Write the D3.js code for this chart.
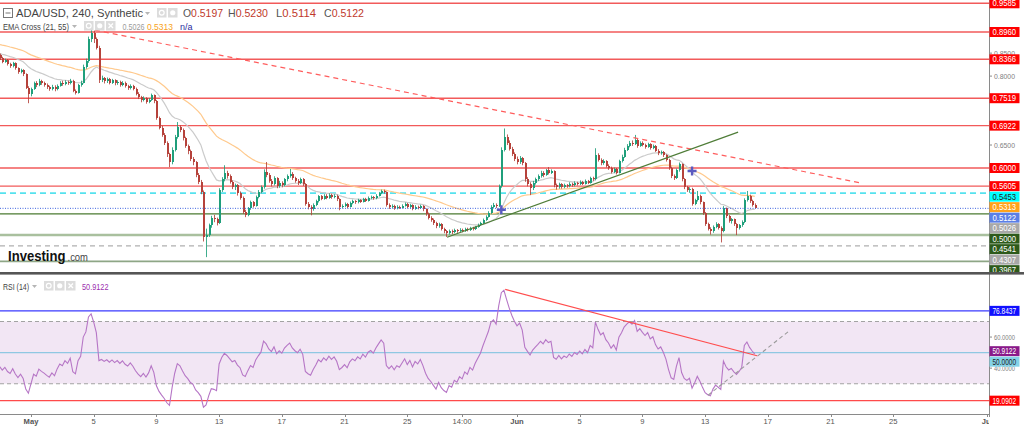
<!DOCTYPE html>
<html><head><meta charset="utf-8">
<script src="https://cdn.jsdelivr.net/npm/d3@7"></script>
<style>body{margin:0;background:#fff;overflow:hidden}svg{display:block}</style>
</head><body>
<svg id="c" width="1024" height="428"></svg>
<script>
// ---------------- DATA ----------------
const startTime = "2022-04-29T00:00:00Z";   // first 4h candle
const firstOpen = 0.845;
const closes = [
.839,.831,.835,.826,.822,.828,.817,.809,.813,.804,
.775,.760,.772,.785,.780,.790,.785,.781,.776,.772,
.777,.771,.779,.785,.782,.788,.784,.790,.768,.764,
.780,.786,.820,.832,.880,.893,.880,.862,.792,.795,
.789,.793,.786,.791,.784,.788,.781,.786,.778,.774,
.779,.772,.762,.754,.748,.752,.744,.749,.758,.745,
.709,.688,.672,.655,.630,.612,.640,.668,.690,.683,
.665,.648,.636,.620,.612,.585,.570,.548,.450,.455,
.475,.492,.488,.480,.552,.575,.590,.582,.570,.558,
.562,.545,.535,.505,.498,.512,.525,.518,.537,.548,
.558,.592,.585,.572,.565,.578,.560,.568,.562,.575,
.582,.588,.578,.572,.568,.575,.565,.522,.515,.510,
.520,.528,.538,.533,.540,.535,.542,.536,.540,.532,
.515,.518,.522,.516,.524,.528,.525,.530,.527,.533,
.529,.535,.537,.534,.540,.545,.550,.547,.520,.515,
.518,.512,.516,.514,.518,.522,.515,.519,.511,.516,
.513,.517,.510,.500,.492,.487,.480,.473,.478,.468,
.462,.458,.463,.460,.465,.462,.466,.463,.468,.465,
.470,.467,.472,.476,.480,.487,.494,.502,.516,.520,
.517,.560,.640,.668,.655,.642,.630,.620,.612,.622,
.610,.575,.565,.556,.568,.575,.582,.590,.585,.595,
.590,.593,.562,.558,.565,.558,.563,.560,.566,.562,
.568,.565,.570,.566,.572,.568,.578,.575,.628,.618,
.610,.615,.605,.600,.592,.598,.590,.615,.625,.640,
.648,.655,.652,.662,.648,.655,.650,.646,.652,.644,
.648,.638,.632,.635,.628,.618,.600,.582,.578,.595,
.608,.575,.558,.552,.555,.522,.530,.540,.525,.502,
.478,.468,.462,.472,.478,.470,.462,.512,.495,.485,
.488,.478,.470,.475,.482,.530,.540,.528,.5197,.5122];
const highs = [
.849,.842,.838,.837,.829,.831,.830,.819,.816,.815,
.806,.778,.775,.788,.789,.794,.792,.788,.784,.779,
.781,.780,.782,.789,.790,.791,.790,.794,.792,.771,
.783,.790,.825,.838,.886,.905,.899,.884,.866,.801,
.798,.797,.796,.794,.793,.791,.790,.789,.788,.781,
.782,.781,.775,.765,.757,.756,.754,.752,.762,.760,
.748,.712,.692,.676,.658,.633,.645,.672,.700,.693,
.686,.668,.651,.640,.624,.615,.589,.574,.551,.468,
.479,.496,.498,.492,.556,.580,.606,.594,.586,.573,
.566,.565,.549,.538,.509,.515,.529,.528,.540,.552,
.562,.597,.613,.589,.576,.582,.580,.572,.571,.578,
.586,.598,.591,.581,.576,.579,.578,.567,.526,.519,
.523,.531,.541,.541,.543,.543,.545,.544,.543,.542,
.534,.521,.525,.524,.527,.531,.530,.533,.532,.535,
.535,.538,.540,.539,.543,.548,.553,.553,.549,.523,
.521,.520,.519,.518,.521,.525,.524,.522,.521,.519,
.518,.520,.519,.512,.503,.495,.490,.483,.481,.480,
.470,.465,.466,.466,.468,.467,.469,.468,.470,.470,
.472,.472,.474,.479,.483,.490,.497,.506,.519,.524,
.523,.564,.645,.686,.673,.660,.646,.634,.625,.626,
.624,.613,.580,.569,.572,.579,.586,.594,.593,.598,
.602,.597,.595,.566,.568,.567,.566,.565,.569,.568,
.571,.570,.573,.572,.575,.574,.581,.581,.643,.632,
.621,.619,.617,.608,.603,.601,.600,.618,.629,.644,
.652,.659,.660,.672,.665,.658,.658,.653,.655,.654,
.651,.650,.641,.638,.637,.630,.620,.603,.586,.599,
.612,.610,.578,.561,.558,.557,.533,.550,.542,.527,
.504,.481,.471,.475,.482,.480,.473,.517,.514,.498,
.491,.490,.480,.478,.486,.534,.550,.542,.531,.5230];
const lows = [
.835,.828,.829,.823,.818,.819,.814,.805,.806,.800,
.772,.741,.756,.770,.776,.778,.781,.777,.772,.768,
.769,.767,.769,.777,.779,.780,.781,.782,.765,.760,
.762,.777,.784,.816,.829,.874,.872,.858,.785,.787,
.784,.785,.782,.783,.780,.781,.777,.778,.775,.770,
.771,.769,.758,.750,.743,.745,.740,.741,.746,.741,
.705,.684,.668,.650,.624,.602,.608,.636,.664,.678,
.660,.644,.630,.615,.606,.580,.565,.543,.440,.406,
.450,.470,.482,.475,.478,.548,.571,.577,.566,.554,
.552,.540,.531,.500,.493,.495,.509,.514,.516,.534,
.545,.555,.580,.568,.560,.562,.556,.557,.558,.560,
.571,.579,.574,.568,.563,.565,.561,.518,.510,.497,
.507,.517,.525,.530,.531,.532,.533,.533,.534,.528,
.508,.512,.515,.512,.514,.521,.522,.523,.524,.525,
.526,.527,.532,.531,.532,.538,.543,.544,.516,.511,
.512,.509,.510,.511,.512,.516,.512,.513,.508,.509,
.510,.511,.506,.496,.488,.483,.476,.469,.470,.464,
.458,.450,.455,.456,.458,.459,.460,.460,.461,.462,
.463,.464,.465,.470,.474,.478,.485,.492,.500,.513,
.513,.515,.557,.636,.650,.638,.626,.615,.608,.609,
.606,.570,.560,.541,.552,.564,.572,.579,.580,.583,
.586,.587,.558,.553,.555,.555,.556,.557,.558,.559,
.560,.562,.563,.563,.564,.565,.566,.572,.573,.614,
.606,.607,.601,.596,.588,.589,.586,.588,.612,.622,
.637,.645,.648,.650,.644,.646,.647,.642,.644,.640,
.641,.635,.628,.629,.624,.614,.596,.578,.574,.576,
.592,.571,.554,.548,.546,.518,.519,.527,.521,.498,
.474,.464,.455,.459,.469,.466,.438,.460,.491,.481,
.479,.474,.454,.466,.472,.480,.527,.524,.516,.5114];

// indicator seeds (values before the first visible candle)
const ema21Seed = 0.850, ema55Seed = 0.870;
const rsiSeedGain = 0.0045, rsiSeedLoss = 0.0060;

// header values
const titleText = "ADA/USD, 240, Synthetic";
const ohlcLetters = ["O","H","L","C"];
const ohlcValues = [0.5197, 0.5230, 0.5114, 0.5122];
const emaLast21 = 0.5026, emaLast55 = 0.5313;
const rsiLast = 50.9122;

// horizontal levels on price chart
const levelValues = [0.9585, 0.8960, 0.8366, 0.7519, 0.6922, 0.6000, 0.5605, 0.5453, 0.5000, 0.4541, 0.4307, 0.3967];
const levelKinds  = ["res","res","res","res","res","res","res","cyan","sup","supLight","dash","sup2"];
const priceTicks = [0.40,0.45,0.50,0.55,0.60,0.65,0.70,0.75,0.80,0.85,0.90,0.95];

// trend lines [date, value]
const resistanceLine = [["2022-05-05T02:00:00Z", 0.900], ["2022-06-23T00:00:00Z", 0.567]];
const supportLine    = [["2022-05-27T13:00:00Z", 0.4494], ["2022-06-15T02:30:00Z", 0.6781]];

// RSI panel
const rsiBand = [70, 30];
const rsiLevels = [76.8437, 50.0, 19.0902];
const rsiLevelKinds = ["rsiBlue","rsiMid","rsiRed"];
const rsiTicks = [20, 40, 60, 80];
const rsiDownLine = [["2022-05-31T06:00:00Z", 90.7], ["2022-06-16T07:30:00Z", 48.0]];
const rsiUpLine   = [["2022-06-13T04:30:00Z", 22.6], ["2022-06-18T10:00:00Z", 64.4]];

// x axis
const xTickDates  = ["2022-05-01","2022-05-05","2022-05-09","2022-05-13","2022-05-17","2022-05-21","2022-05-25","2022-05-28T12:00","2022-06-01","2022-06-05","2022-06-09","2022-06-13","2022-06-17","2022-06-21","2022-06-25","2022-07-01"];
const xTickLabels = ["May","5","9","13","17","21","25","14:00","Jun","5","9","13","17","21","25","Jul"];

// ---------------- STYLE ----------------
const FONT = "'Liberation Sans', Arial, sans-serif";
const UP = "#1f9f7b", DOWN = "#b6423b";
const lineStyle = {
  res:      {stroke:"#f25a5a", w:1.4, dash:null},
  cyan:     {stroke:"#55e2ee", w:1.8, dash:"6,4"},
  sup:      {stroke:"#4b7a30", w:1.2, dash:null},
  supLight: {stroke:"#a9c09e", w:2.4, dash:null},
  dash:     {stroke:"#b0b0b0", w:1.2, dash:"5,4"},
  sup2:     {stroke:"#8ea686", w:1.6, dash:null}
};
const labelStyle = {
  res:{bg:"#ff0000",fg:"#fff"}, cyan:{bg:"#00ffff",fg:"#222"}, sup:{bg:"#2d5a1b",fg:"#fff"},
  supLight:{bg:"#2d5a1b",fg:"#fff"}, sup2:{bg:"#2d5a1b",fg:"#fff"}, dash:{bg:"#a8a8a8",fg:"#fff"},
  price:{bg:"#5a7fe6",fg:"#fff"}, ema21:{bg:"#a8a8a8",fg:"#fff"}, ema55:{bg:"#ffa31a",fg:"#fff"},
  rsiBlue:{bg:"#1010ff",fg:"#fff"}, rsiMid:{bg:"#84d3e8",fg:"#222"}, rsiRed:{bg:"#ff0000",fg:"#fff"},
  rsiVal:{bg:"#8a1a8a",fg:"#fff"}
};
const rsiLineStyle = {rsiBlue:{stroke:"#3a3aff",w:1.2}, rsiMid:{stroke:"#8fc8e2",w:1.2}, rsiRed:{stroke:"#ff4a4a",w:1.2}};

// ---------------- SCALES ----------------
const svg = d3.select("#c").attr("font-family", FONT);
const PR = 989;                 // right edge of plots
const MAIN_B = 272, RSI_T = 276, RSI_B = 414;
const x = d3.scaleUtc().domain([new Date("2022-05-01T00:00:00Z"), new Date("2022-06-01T00:00:00Z")]).range([31, 517]);
const y = d3.scaleLinear().domain([0.896, 0.600]).range([32, 168]);
const yR = d3.scaleLinear().domain([70, 30]).range([321.5, 383.7]);

const t0 = new Date(startTime).getTime();
const candles = closes.map((c,i)=>({t:new Date(t0 + i*4*3600e3), o: i? closes[i-1] : firstOpen, c, h:highs[i], l:lows[i]}));

// indicators
function ema(n, seed){ const k=2/(n+1); let e=seed; return candles.map(d=>(e = d.c*k + e*(1-k))); }
const e21 = ema(21, ema21Seed), e55 = ema(55, ema55Seed);
let ag=rsiSeedGain, al=rsiSeedLoss;
const rsi = candles.map(d=>{ const ch=d.c-d.o; ag=(ag*13+Math.max(ch,0))/14; al=(al*13+Math.max(-ch,0))/14; return 100-100/(1+ag/al); });
const crosses = [];
for (let i=1;i<candles.length;i++){ if (Math.sign(e21[i]-e55[i]) !== Math.sign(e21[i-1]-e55[i-1])) crosses.push({t:candles[i].t, v:(e21[i]+e55[i])/2}); }

// ---------------- DRAW ----------------
const defs = svg.append("defs");
defs.append("clipPath").attr("id","cm").append("rect").attr("x",0).attr("y",0).attr("width",PR).attr("height",MAIN_B);
defs.append("clipPath").attr("id","cml").append("rect").attr("x",0).attr("y",0).attr("width",1024).attr("height",MAIN_B+1);
defs.append("clipPath").attr("id","cr").append("rect").attr("x",0).attr("y",RSI_T).attr("width",PR).attr("height",RSI_B-RSI_T);
defs.append("clipPath").attr("id","cx").append("rect").attr("x",0).attr("y",RSI_B).attr("width",PR).attr("height",14);

const gm = svg.append("g").attr("clip-path","url(#cm)");
// levels
gm.selectAll("line.lv").data(levelValues).join("line").attr("class","lv")
  .attr("x1",0).attr("x2",PR).attr("y1",d=>y(d)).attr("y2",d=>y(d))
  .attr("stroke",(d,i)=>lineStyle[levelKinds[i]].stroke).attr("stroke-width",(d,i)=>lineStyle[levelKinds[i]].w)
  .attr("stroke-dasharray",(d,i)=>lineStyle[levelKinds[i]].dash);
// EMAs
const lineGen = d3.line().x(d=>x(d[0])).y(d=>d[1]);
gm.append("path").attr("d", lineGen(candles.map((d,i)=>[d.t, y(e55[i])]))).attr("fill","none").attr("stroke","#ffc98c").attr("stroke-width",1.2);
gm.append("path").attr("d", lineGen(candles.map((d,i)=>[d.t, y(e21[i])]))).attr("fill","none").attr("stroke","#cbcbcb").attr("stroke-width",1.2);
// candles
const gc = gm.append("g");
gc.selectAll("line").data(candles).join("line")
  .attr("x1",d=>Math.round(x(d.t))+0.5).attr("x2",d=>Math.round(x(d.t))+0.5)
  .attr("y1",d=>y(d.h)).attr("y2",d=>y(d.l))
  .attr("stroke",d=>d.c>=d.o?UP:DOWN).attr("stroke-width",1).attr("opacity",0.85);
gc.selectAll("rect").data(candles).join("rect")
  .attr("x",d=>Math.round(x(d.t))-0.5).attr("width",2)
  .attr("y",d=>y(Math.max(d.o,d.c))).attr("height",d=>Math.max(1, Math.abs(y(d.o)-y(d.c))))
  .attr("fill",d=>d.c>=d.o?UP:DOWN).attr("shape-rendering","crispEdges");
// price line
const last = closes[closes.length-1];
gm.append("line").attr("x1",0).attr("x2",PR).attr("y1",y(last)).attr("y2",y(last))
  .attr("stroke","#3e63e0").attr("stroke-width",1).attr("stroke-dasharray","1,1.5");
// trend lines
gm.append("line").attr("x1",x(new Date(resistanceLine[0][0]))).attr("y1",y(resistanceLine[0][1]))
  .attr("x2",x(new Date(resistanceLine[1][0]))).attr("y2",y(resistanceLine[1][1]))
  .attr("stroke","#ff5d5d").attr("stroke-width",1.2).attr("stroke-dasharray","5,4");
gm.append("line").attr("x1",x(new Date(supportLine[0][0]))).attr("y1",y(supportLine[0][1]))
  .attr("x2",x(new Date(supportLine[1][0]))).attr("y2",y(supportLine[1][1]))
  .attr("stroke","#4f7d38").attr("stroke-width",1.2);
// EMA cross markers
gm.selectAll("path.cross").data(crosses).join("path").attr("class","cross")
  .attr("d",d=>{const cx=x(d.t), cy=y(d.v); return `M${cx-4.5},${cy}H${cx+4.5}M${cx},${cy-4.5}V${cy+4.5}`;})
  .attr("stroke","#5a5ac0").attr("stroke-width",2.4);

// RSI panel
const gr = svg.append("g").attr("clip-path","url(#cr)");
gr.append("rect").attr("x",0).attr("width",PR).attr("y",yR(rsiBand[0])).attr("height",yR(rsiBand[1])-yR(rsiBand[0])).attr("fill","#f2e6f4");
gr.selectAll("line.band").data(rsiBand).join("line").attr("class","band")
  .attr("x1",0).attr("x2",PR).attr("y1",d=>yR(d)).attr("y2",d=>yR(d))
  .attr("stroke","#a3a3a3").attr("stroke-width",1.1).attr("stroke-dasharray","4,3");
gr.selectAll("line.rl").data(rsiLevels).join("line").attr("class","rl")
  .attr("x1",0).attr("x2",PR).attr("y1",d=>yR(d)).attr("y2",d=>yR(d))
  .attr("stroke",(d,i)=>rsiLineStyle[rsiLevelKinds[i]].stroke).attr("stroke-width",(d,i)=>rsiLineStyle[rsiLevelKinds[i]].w);
gr.append("path").attr("d", lineGen(candles.map((d,i)=>[d.t, yR(rsi[i])]))).attr("fill","none").attr("stroke","#b676c6").attr("stroke-width",1.1);
gr.append("line").attr("x1",x(new Date(rsiDownLine[0][0]))).attr("y1",yR(rsiDownLine[0][1]))
  .attr("x2",x(new Date(rsiDownLine[1][0]))).attr("y2",yR(rsiDownLine[1][1])).attr("stroke","#ff4d4d").attr("stroke-width",1.2);
gr.append("line").attr("x1",x(new Date(rsiUpLine[0][0]))).attr("y1",yR(rsiUpLine[0][1]))
  .attr("x2",x(new Date(rsiUpLine[1][0]))).attr("y2",yR(rsiUpLine[1][1])).attr("stroke","#9a9a9a").attr("stroke-width",1.1).attr("stroke-dasharray","4,3");

// axes lines
svg.append("line").attr("x1",PR+0.5).attr("x2",PR+0.5).attr("y1",0).attr("y2",RSI_B+3).attr("stroke","#8a8a8a");
svg.append("line").attr("x1",0).attr("x2",PR).attr("y1",RSI_B+0.5).attr("y2",RSI_B+0.5).attr("stroke","#8a8a8a");

// x axis ticks
const gx = svg.append("g").attr("clip-path","url(#cx)");
const xt = xTickDates.map((d,i)=>({t:new Date(d.length>10? d+":00Z" : d+"T00:00:00Z"), s:xTickLabels[i]}));
gx.selectAll("line").data(xt).join("line").attr("x1",d=>Math.round(x(d.t))+0.5).attr("x2",d=>Math.round(x(d.t))+0.5)
  .attr("y1",RSI_B).attr("y2",RSI_B+3).attr("stroke","#8a8a8a");
gx.selectAll("text").data(xt).join("text").attr("x",d=>x(d.t)).attr("y",RSI_B+10)
  .attr("text-anchor","middle").attr("font-size",7.6).attr("fill","#555")
  .attr("font-weight",d=>/^[A-Z]/.test(d.s)?"bold":"normal").text(d=>d.s);

// right labels (stacked so they never collide)
const f4 = d3.format(".4f");
function stack(list, sc){
  const s = list.slice().sort((a,b)=>b.v-a.v);
  let prev=-1e9;
  s.forEach(d=>{ let yy=sc(d.v); if (yy<prev+10.5) yy=prev+10.5; prev=yy; d.y=yy; });
  return s;
}
const mainLabels = stack(levelValues.map((v,i)=>({v, k:levelKinds[i]}))
  .concat([{v:last,k:"price"},{v:emaLast21,k:"ema21"},{v:emaLast55,k:"ema55"}]), y);
const rsiLabels = stack(rsiLevels.map((v,i)=>({v,k:rsiLevelKinds[i]})).concat([{v:rsiLast,k:"rsiVal"}]), yR);

// right axis ticks (only the ones not hidden behind a label box)
function axisTicks(vals, sc, labels, yMax){
  const vis = vals.filter(v=>sc(v)<yMax && labels.every(l=>Math.abs(l.y-sc(v))>=5));
  const g = svg.append("g");
  g.selectAll("line").data(vis).join("line").attr("x1",PR).attr("x2",PR+3).attr("y1",d=>sc(d)).attr("y2",d=>sc(d)).attr("stroke","#8a8a8a");
  g.selectAll("text").data(vis).join("text").attr("x",PR+5).attr("y",d=>sc(d)+3).attr("font-size",7.8).attr("fill","#808080")
    .attr("textLength",21).attr("lengthAdjust","spacingAndGlyphs").text(d=>f4(d));
}
axisTicks(priceTicks, y, mainLabels, MAIN_B-4);
axisTicks(rsiTicks, yR, rsiLabels, RSI_B);

function drawLabels(s, clip){
  const g = svg.append("g");
  if (clip) g.attr("clip-path", clip);
  g.selectAll("rect").data(s).join("rect").attr("x",PR+0.5).attr("y",d=>d.y-5).attr("width",30).attr("height",10)
    .attr("fill",d=>labelStyle[d.k].bg);
  g.selectAll("text").data(s).join("text").attr("x",PR+3.5).attr("y",d=>d.y+3.2).attr("font-size",8.4)
    .attr("fill",d=>labelStyle[d.k].fg).attr("textLength",23.5).attr("lengthAdjust","spacingAndGlyphs").text(d=>f4(d.v));
}
drawLabels(mainLabels, "url(#cml)");
drawLabels(rsiLabels, null);

// separator (drawn over the bottom label)
svg.append("rect").attr("x",0).attr("y",MAIN_B).attr("width",1024).attr("height",2.6).attr("fill","#555");

// ---------------- HEADER TEXTS ----------------
function icons(g, x0, y0, n){
  for (let i=0;i<n;i++){
    const xx=x0+i*11;
    g.append("rect").attr("x",xx).attr("y",y0).attr("width",9.5).attr("height",9.5).attr("fill","#dcdcdc");
    if (i===0) g.append("circle").attr("cx",xx+4.75).attr("cy",y0+4.75).attr("r",2.4).attr("fill","none").attr("stroke","#fff").attr("stroke-width",1.2);
    else if (i===1) g.append("circle").attr("cx",xx+4.75).attr("cy",y0+4.75).attr("r",2.6).attr("fill","#fff");
    else g.append("path").attr("d",`M${xx+2.5},${y0+2.5}L${xx+7},${y0+7}M${xx+7},${y0+2.5}L${xx+2.5},${y0+7}`).attr("stroke","#fff").attr("stroke-width",1.3);
  }
}
function caret(g, x0, y0){ g.append("path").attr("d",`M${x0},${y0}h5l-2.5,3z`).attr("fill","#b5b5b5"); }
const hd = svg.append("g");
hd.append("rect").attr("x",3.5).attr("y",8.5).attr("width",9).attr("height",9).attr("fill","none").attr("stroke","#777");
hd.append("line").attr("x1",5.5).attr("x2",10.5).attr("y1",13).attr("y2",13).attr("stroke","#777");
hd.append("text").attr("x",16).attr("y",17.4).attr("font-size",11.6).attr("fill","#444")
  .attr("textLength",127).attr("lengthAdjust","spacingAndGlyphs").text(titleText);
caret(hd,145,12);
icons(hd,157,8,2);
const ohlcX = [183, 228, 276, 324];
ohlcLetters.forEach((L,i)=>{
  const t = hd.append("text").attr("x",ohlcX[i]).attr("y",17.4).attr("font-size",11.2)
    .attr("textLength",40).attr("lengthAdjust","spacingAndGlyphs");
  t.append("tspan").attr("fill","#555").text(L);
  t.append("tspan").attr("fill","#c0392b").text(ohlcValues[i].toFixed(4));
});
hd.append("text").attr("x",3).attr("y",29.6).attr("font-size",9.4).attr("fill","#444")
  .attr("textLength",66).attr("lengthAdjust","spacingAndGlyphs").text("EMA Cross (21, 55)");
caret(hd,72,25);
icons(hd,84,21,3);
hd.append("text").attr("x",122.5).attr("y",29.6).attr("font-size",9).attr("fill","#9a9a9a").attr("textLength",22).attr("lengthAdjust","spacingAndGlyphs").text(f4(emaLast21));
hd.append("text").attr("x",147).attr("y",29.6).attr("font-size",9).attr("fill","#f7a21b").attr("textLength",26).attr("lengthAdjust","spacingAndGlyphs").text(f4(emaLast55));
hd.append("text").attr("x",180).attr("y",29.6).attr("font-size",9).attr("fill","#2c2ca0").text("n/a");

// Investing logo
hd.append("text").attr("x",8).attr("y",260.5).attr("font-size",14.5).attr("font-weight","bold").attr("fill","#111")
  .attr("textLength",57.5).attr("lengthAdjust","spacingAndGlyphs").text("Investing");
hd.append("text").attr("x",67.5).attr("y",260.5).attr("font-size",10.5).attr("fill","#444")
  .attr("textLength",20.5).attr("lengthAdjust","spacingAndGlyphs").text(".com");

// RSI header
hd.append("text").attr("x",3).attr("y",289.6).attr("font-size",9.4).attr("fill","#444")
  .attr("textLength",26).attr("lengthAdjust","spacingAndGlyphs").text("RSI (14)");
caret(hd,32,285);
icons(hd,44,281,3);
hd.append("text").attr("x",82).attr("y",289.6).attr("font-size",9.2).attr("fill","#9b2fae")
  .attr("textLength",26.5).attr("lengthAdjust","spacingAndGlyphs").text(f4(rsiLast));
</script>
</body></html>
